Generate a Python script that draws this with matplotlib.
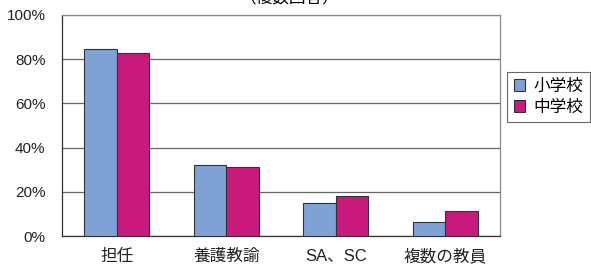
import numpy as np
import matplotlib
matplotlib.use("Agg")
from matplotlib import pyplot as plt

plt.rcParams['font.family'] = ['Liberation Sans', 'Noto Sans CJK JP', 'DejaVu Sans']

categories = ['担任', '養護教諭', 'SA、SC', '複数の教員']
elementary = [84.5, 32.3, 15.0, 6.3]
junior_high = [82.7, 31.0, 18.2, 11.4]
series_names = ['小学校', '中学校']
yticks = [0, 20, 40, 60, 80, 100]

blue = '#7fa2d4'
magenta = '#c8197c'

fig = plt.figure(figsize=(5.91, 2.71), dpi=100)
ax = fig.add_axes([0.105, 0.129, 0.741, 0.816])

x = np.arange(len(categories))
w = 0.295
ax.bar(x - w / 2, elementary, w, color=blue, edgecolor='#333333', linewidth=0.8,
       label=series_names[0], zorder=3)
ax.bar(x + w / 2, junior_high, w, color=magenta, edgecolor='#333333', linewidth=0.8,
       label=series_names[1], zorder=3)

ax.set_xlim(-0.5, len(categories) - 0.5)
ax.set_ylim(0, 100)
ax.set_yticks(yticks)
ax.set_yticklabels([f'{v}%' for v in yticks], fontsize=11)
ax.set_xticks(x)
ax.set_xticklabels(categories, fontsize=12)
ax.tick_params(axis='both', length=0, colors='#222222')
ax.tick_params(axis='x', pad=9)
ax.tick_params(axis='y', pad=12)
ax.grid(axis='y', color='#666666', linewidth=0.9, zorder=0)

for side in ['top', 'right']:
    ax.spines[side].set_color('#888888')
for side in ['left', 'bottom']:
    ax.spines[side].set_color('#333333')
for s in ax.spines.values():
    s.set_linewidth(0.9)

leg = ax.legend(loc='upper left', bbox_to_anchor=(1.016, 0.74), fontsize=12,
                borderaxespad=0, handlelength=0.7, handleheight=0.7,
                handletextpad=0.5, borderpad=0.4, labelspacing=0.35,
                fancybox=False, frameon=True)
leg.get_frame().set_edgecolor('#444444')
leg.get_frame().set_linewidth(0.8)

fig.text(0.49, 1.005, '（複数回答）', ha='center', va='center', fontsize=12,
         family=['Noto Sans CJK JP', 'DejaVu Sans'])

fig.savefig('out.png', dpi=100)
